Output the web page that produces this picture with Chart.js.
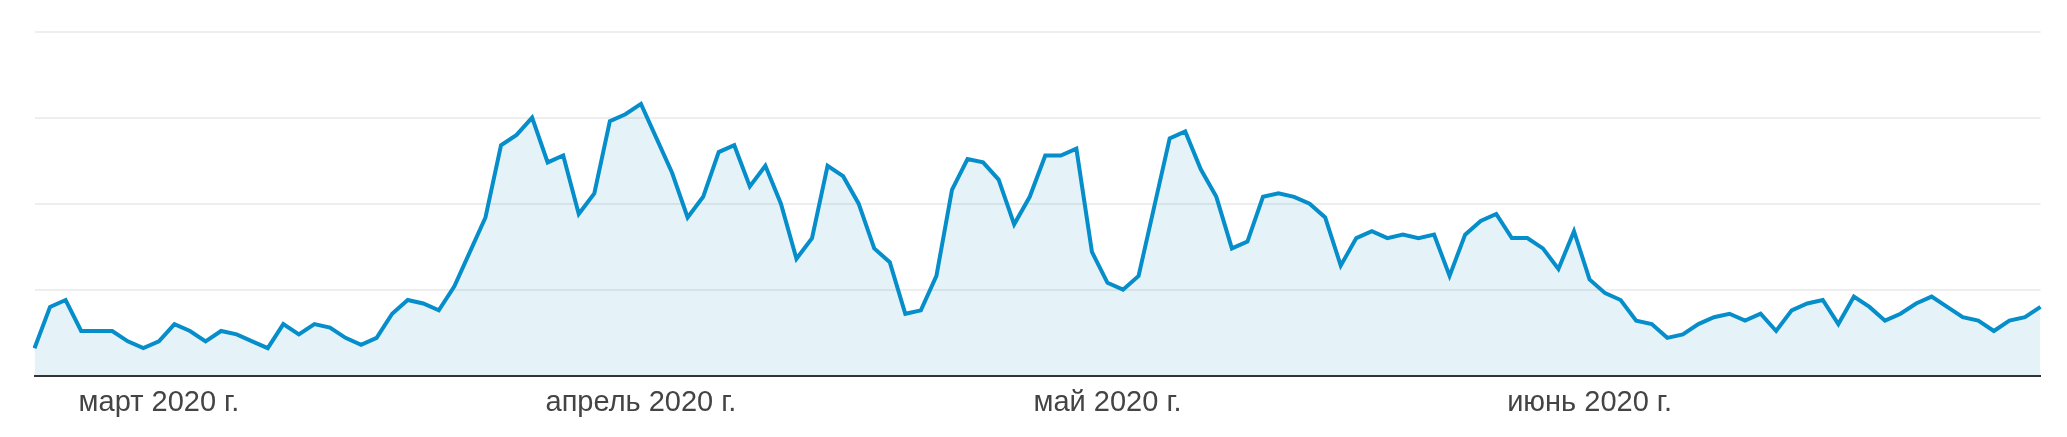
<!DOCTYPE html>
<html><head><meta charset="utf-8">
<script src="https://cdn.jsdelivr.net/npm/chart.js@4.4.1/dist/chart.umd.min.js"></script>
<style>html,body{margin:0;padding:0;background:#fff;}canvas{display:block;}</style>
</head><body>
<canvas id="c" width="2067" height="437"></canvas>
<script>
const dates = [
'2020-02-22','2020-02-23','2020-02-24','2020-02-25','2020-02-26','2020-02-27','2020-02-28','2020-02-29',
'2020-03-01','2020-03-02','2020-03-03','2020-03-04','2020-03-05','2020-03-06','2020-03-07','2020-03-08','2020-03-09','2020-03-10',
'2020-03-11','2020-03-12','2020-03-13','2020-03-14','2020-03-15','2020-03-16','2020-03-17','2020-03-18','2020-03-19','2020-03-20',
'2020-03-21','2020-03-22','2020-03-23','2020-03-24','2020-03-25','2020-03-26','2020-03-27','2020-03-28','2020-03-29','2020-03-30','2020-03-31',
'2020-04-01','2020-04-02','2020-04-03','2020-04-04','2020-04-05','2020-04-06','2020-04-07','2020-04-08','2020-04-09','2020-04-10',
'2020-04-11','2020-04-12','2020-04-13','2020-04-14','2020-04-15','2020-04-16','2020-04-17','2020-04-18','2020-04-19','2020-04-20',
'2020-04-21','2020-04-22','2020-04-23','2020-04-24','2020-04-25','2020-04-26','2020-04-27','2020-04-28','2020-04-29','2020-04-30',
'2020-05-01','2020-05-02','2020-05-03','2020-05-04','2020-05-05','2020-05-06','2020-05-07','2020-05-08','2020-05-09','2020-05-10',
'2020-05-11','2020-05-12','2020-05-13','2020-05-14','2020-05-15','2020-05-16','2020-05-17','2020-05-18','2020-05-19','2020-05-20',
'2020-05-21','2020-05-22','2020-05-23','2020-05-24','2020-05-25','2020-05-26','2020-05-27','2020-05-28','2020-05-29','2020-05-30','2020-05-31',
'2020-06-01','2020-06-02','2020-06-03','2020-06-04','2020-06-05','2020-06-06','2020-06-07','2020-06-08','2020-06-09','2020-06-10',
'2020-06-11','2020-06-12','2020-06-13','2020-06-14','2020-06-15','2020-06-16','2020-06-17','2020-06-18','2020-06-19','2020-06-20',
'2020-06-21','2020-06-22','2020-06-23','2020-06-24','2020-06-25','2020-06-26','2020-06-27','2020-06-28','2020-06-29','2020-06-30'
];

const values = [
 8,20,22,13,13,13,10, 8,10,15,
13,10,13,12,10, 8,15,12,15,14,
11, 9,11,18,22,21,19,26,36,46,
67,70,75,62,64,47,53,74,76,79,
69,59,46,52,65,67,55,61,50,34,
40,61,58,50,37,33,18,19,29,54,
63,62,57,44,52,64,64,66,36,27,
25,29,49,69,71,60,52,37,39,52,
53,52,50,46,32,40,42,40,41,40,
41,29,41,45,47,40,40,37,31,42,
28,24,22,16,15,11,12,15,17,18,
16,18,13,19,21,22,15,23,20,16,
18,21,23,20,17,16,13,16,17,20
];

const tickDates = ['2020-03-01','2020-04-01','2020-05-01','2020-06-01'];
const tickLabels = ['март 2020 г.','апрель 2020 г.','май 2020 г.','июнь 2020 г.'];
const yTicks = [0,25,50,75,100];

const lineColor = 'rgb(5,142,202)';

new Chart(document.getElementById('c'), {
  type: 'line',
  data: {
    labels: dates,
    datasets: [{
      data: values,
      borderColor: lineColor,
      backgroundColor: 'rgba(5,142,202,0.105)',
      borderWidth: 4,
      borderJoinStyle: 'miter',
      tension: 0,
      pointRadius: 0,
      fill: 'origin'
    }]
  },
  options: {
    responsive: false,
    animation: false,
    devicePixelRatio: 1,
    layout: { padding: { left: 34.5, right: 26.5, top: 31.7, bottom: 0 } },
    plugins: { legend: { display: false }, tooltip: { enabled: false } },
    scales: {
      x: {
        type: 'category',
        offset: false,
        grid: { display: false, drawTicks: false },
        border: { display: true, color: '#333333', width: 2 },
        ticks: {
          autoSkip: false,
          maxRotation: 0,
          minRotation: 0,
          padding: 10,
          color: '#444444',
          font: { family: '"Liberation Sans", Arial, sans-serif', size: 29 },
          callback: function(val, idx) {
            const d = dates[idx];
            const k = tickDates.indexOf(d);
            return k >= 0 ? tickLabels[k] : '';
          }
        },
        afterFit: function(s) { s.height = 61.3; }
      },
      y: {
        min: yTicks[0],
        max: yTicks[yTicks.length - 1],
        afterBuildTicks: function(s) { s.ticks = yTicks.map(v => ({ value: v })); },
        ticks: { display: false },
        border: { display: false },
        grid: {
          drawTicks: false,
          lineWidth: 2,
          color: ctx => (ctx.tick && ctx.tick.value === 0) ? 'rgba(0,0,0,0)' : '#eeeeee'
        },
        afterFit: function(s) { s.width = 0; }
      }
    }
  }
});
</script>
</body></html>
